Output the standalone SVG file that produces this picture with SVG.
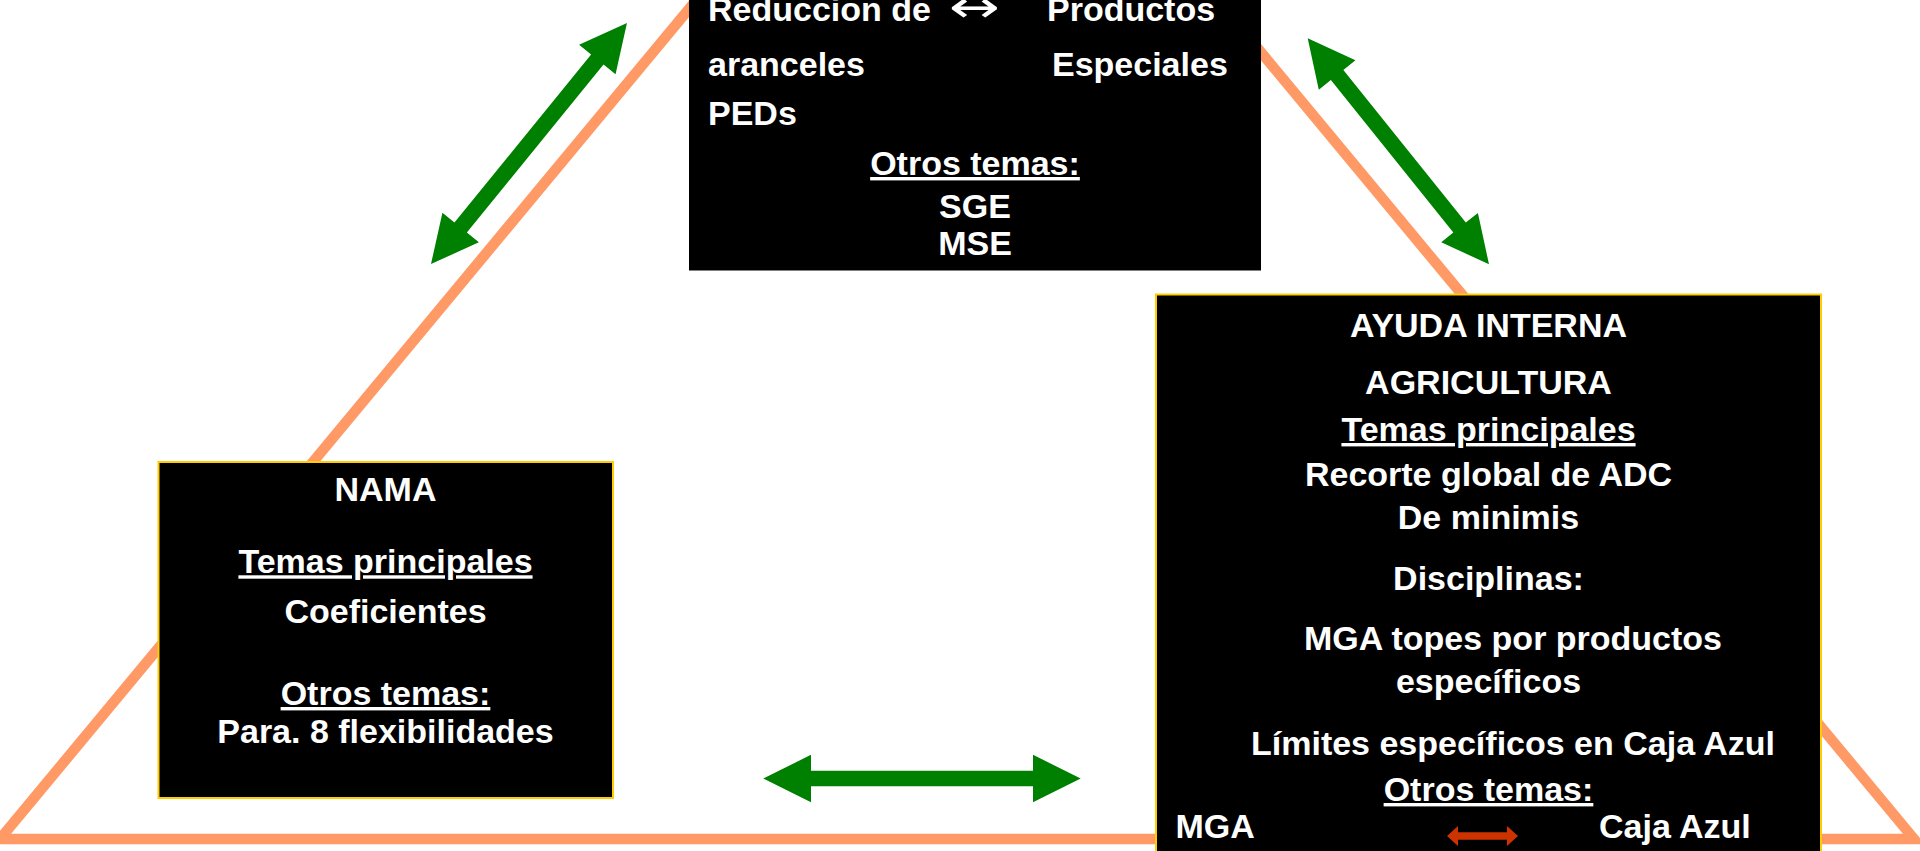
<svg xmlns="http://www.w3.org/2000/svg" width="1920" height="851" viewBox="0 0 1920 851">
<style>
.t{font-family:"Liberation Sans",Arial,sans-serif;font-weight:bold;font-size:34px;fill:#fff}
.c{text-anchor:middle}
.u{text-decoration:underline}
.box{fill:#000;stroke:#FFCC00;stroke-width:2}
.arr{fill:#008000}
</style>
<rect width="1920" height="851" fill="#fff"/>
<polygon points="0,839 957,-314 1914,839" fill="none" stroke="#FF9966" stroke-width="10.5"/>
<g id="top">
<rect x="689" y="-20" width="572" height="290.5" fill="#000"/>
<text class="t" x="708" y="21">Reduccion de</text>
<text x="949" y="22" font-family="DejaVu Sans,sans-serif" font-size="44" fill="#fff" textLength="51" lengthAdjust="spacingAndGlyphs">↔</text>
<text class="t" x="1047" y="21">Productos</text>
<text class="t" x="708" y="76">aranceles</text>
<text class="t" x="1052" y="76">Especiales</text>
<text class="t" x="708" y="125">PEDs</text>
<text class="t c u" x="975" y="175">Otros temas:</text>
<text class="t c" x="975" y="218">SGE</text>
<text class="t c" x="975" y="255">MSE</text>
</g>
<g id="nama">
<rect class="box" x="158.5" y="462" width="454.5" height="336"/>
<text class="t c" x="385.5" y="500.7">NAMA</text>
<text class="t c u" x="385.5" y="573.3">Temas principales</text>
<text class="t c" x="385.5" y="622.7">Coeficientes</text>
<text class="t c u" x="385.5" y="705">Otros temas:</text>
<text class="t c" x="385.5" y="742.7">Para. 8 flexibilidades</text>
</g>
<g id="ayuda">
<rect class="box" x="1156" y="294.5" width="665" height="580"/>
<text class="t c" x="1488.5" y="337">AYUDA INTERNA</text>
<text class="t c" x="1488.5" y="394">AGRICULTURA</text>
<text class="t c u" x="1488.5" y="441">Temas principales</text>
<text class="t c" x="1488.5" y="486">Recorte global de ADC</text>
<text class="t c" x="1488.5" y="529">De minimis</text>
<text class="t c" x="1488.5" y="590">Disciplinas:</text>
<text class="t c" x="1513" y="650">MGA topes por productos</text>
<text class="t c" x="1488.5" y="693">específicos</text>
<text class="t c" x="1513" y="755">Límites específicos en Caja Azul</text>
<text class="t c u" x="1488.5" y="801">Otros temas:</text>
<text class="t" x="1175.5" y="837.5">MGA</text>
<text class="t" x="1599" y="837.5">Caja Azul</text>
<polygon fill="#CC3300" points="1447,836 1458,826 1458,832.3 1507,832.3 1507,826 1518,836 1507,846 1507,839.7 1458,839.7 1458,846"/>
</g>
<g id="connectors">
<polygon class="arr" transform="translate(431,264) rotate(-50.88)" points="0,0 47,-23.5 47,-8 263.6,-8 263.6,-23.5 310.6,0 263.6,23.5 263.6,8 47,8 47,23.5"/>
<polygon class="arr" transform="translate(1307.7,38.3) rotate(51.26)" points="0,0 47,-23.5 47,-8 242.7,-8 242.7,-23.5 289.7,0 242.7,23.5 242.7,8 47,8 47,23.5"/>
<polygon class="arr" transform="translate(763.3,778.5)" points="0,0 47.7,-23.7 47.7,-7.7 269.7,-7.7 269.7,-23.7 317.4,0 269.7,23.7 269.7,7.7 47.7,7.7 47.7,23.7"/>
</g>
</svg>
